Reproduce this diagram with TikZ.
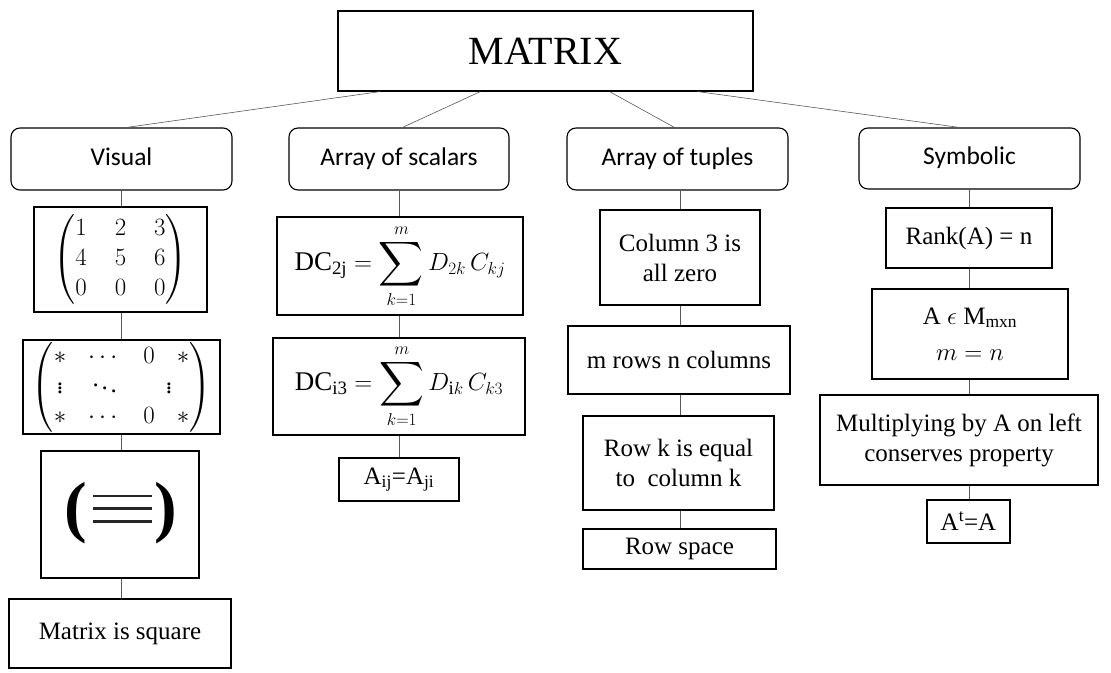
\documentclass[tikz,border=0pt]{standalone}
\usepackage{amsmath}
\usepackage{fontspec}
\setmainfont{Liberation Serif}
\newfontfamily\calfont{Carlito}
\usetikzlibrary{calc}
\newcommand{\bigsum}{\mathop{\vcenter{\hbox{\scalebox{1.25}{$\displaystyle\sum$}}}}\limits}
\tikzset{
  rbox/.style={draw, line width=1.1pt, rounded corners=9pt, inner sep=0pt,
    font=\calfont\fontsize{25.5}{30}\selectfont, execute at begin node=\strut},
  sbox/.style={draw, line width=1.1pt, inner sep=0pt, align=center,
    font=\fontsize{25}{30}\selectfont},
  mbox/.style={sbox, font=\fontsize{27}{32}\selectfont},
  sz/.style 2 args={minimum width=#1pt, minimum height=#2pt},
  conn/.style={line width=0.6pt, draw=black!65},
  bar/.style={line width=2.2pt, draw=black!85, line cap=butt},
  bigparen/.style={inner sep=0pt, font=\bfseries\fontsize{68}{68}\selectfont},
}
\begin{document}
\begin{tikzpicture}[x=1pt,y=-1pt]
\fill[white] (0,0) rectangle (1111,672);
\useasboundingbox (0,0) rectangle (1111,672);

% title
\node[sbox, sz={415}{80}, font=\fontsize{40}{40}\selectfont] (title) at (545.5,51) {MATRIX};

% level 2
\node[rbox, sz={221}{62}] (visual)   at (121.5,159) {Visual};
\node[rbox, sz={220}{62}] (scalars)  at (399,159)   {Array of scalars};
\node[rbox, sz={221}{62}] (tuples)   at (677.5,159) {Array of tuples};
\node[rbox, sz={221}{61}] (symbolic) at (969.5,158.5) {Symbolic};

% visual column
\node[sbox, sz={173}{105}] (m1) at (120.5,259.5)
  {$\setlength\arraycolsep{14pt}\begin{pmatrix}1&2&3\\4&5&6\\0&0&0\end{pmatrix}$};
\node[sbox, sz={197}{94}] (m2) at (121.5,387)
  {$\setlength\arraycolsep{11pt}\begin{pmatrix}* & \cdots & 0 & *\\
     \vdots & \ddots & \makebox[0pt]{\hspace{40pt}$\vdots$} & \\
     * & \cdots & 0 & *\end{pmatrix}$};
\node[sbox, sz={158}{127}] (paren) at (120,514.5) {};
\node[bigparen] (lp) at (76,513) {(};
\node[bigparen] (rp) at (166,513) {)};
\draw[bar] (93,496) -- (152,496);
\draw[bar] (93,508.5) -- (152,508.5);
\draw[bar] (93,521.5) -- (152,521.5);
\node[sbox, sz={222}{69}] (square) at (120,633.5) {Matrix is square};

% scalars column
\node[mbox, sz={246}{98}] (dc2) at (400,266)
  {$\mathrm{DC}_{\mathrm{2j}} = \bigsum_{k=1}^{m} D_{2k}\, C_{kj}$};
\node[mbox, sz={252}{97}] (dc3) at (399,386.5)
  {$\mathrm{DC}_{\mathrm{i3}} = \bigsum_{k=1}^{m} D_{\mathrm{i}k}\, C_{k3}$};
\node[sbox, sz={120}{43}] (aij) at (399,479.5)
  {A\textsubscript{ij}=A\textsubscript{ji}};

% tuples column
\node[sbox, sz={160}{95}] (col3) at (680,257.5) {Column 3 is\\all zero};
\node[sbox, sz={222}{68}] (mrows) at (679,360) {m rows n columns};
\node[sbox, sz={191}{94}] (rowk) at (678.5,463) {Row k is equal\\to\ \ column k};
\node[sbox, sz={193}{40}] (rowsp) at (679.5,549) {Row space};

% symbolic column
\node[sbox, sz={166}{60}] (rank) at (969,238) {Rank(A) = n};
\node[sbox, sz={196}{90}, font=\fontsize{25}{36}\selectfont] (ain) at (970,334)
  {A $\epsilon$ M\textsubscript{mxn}\\\fontsize{27}{36}\selectfont$m = n$};
\node[sbox, sz={278}{90}] (mult) at (959,440) {Multiplying by A on left\\conserves property};
\node[sbox, sz={83}{43}] (at) at (968.5,521.5) {A\textsuperscript{t}=A};

% connectors from title
\draw[conn] ([xshift=43pt]title.south west) -- ([xshift=116pt]visual.north west);
\draw[conn] ([xshift=143pt]title.south west) -- ([xshift=114pt]scalars.north west);
\draw[conn] ([xshift=272pt]title.south west) -- ([xshift=108pt]tuples.north west);
\draw[conn] ([xshift=360pt]title.south west) -- ([xshift=101pt]symbolic.north west);

% vertical connectors
\draw[conn] (visual.south) -- (visual.south |- m1.north);
\draw[conn] (visual.south |- m1.south) -- (visual.south |- m2.north);
\draw[conn] (visual.south |- m2.south) -- (visual.south |- paren.north);
\draw[conn] (visual.south |- paren.south) -- (visual.south |- square.north);

\draw[conn] (scalars.south) -- (scalars.south |- dc2.north);
\draw[conn] (scalars.south |- dc2.south) -- (scalars.south |- dc3.north);
\draw[conn] (scalars.south |- dc3.south) -- (scalars.south |- aij.north);

\draw[conn] (col3.north |- tuples.south) -- (col3.north);
\draw[conn] (col3.south) -- (col3.south |- mrows.north);
\draw[conn] (col3.south |- mrows.south) -- (col3.south |- rowk.north);
\draw[conn] (col3.south |- rowk.south) -- (col3.south |- rowsp.north);

\draw[conn] (symbolic.south) -- (symbolic.south |- rank.north);
\draw[conn] (symbolic.south |- rank.south) -- (symbolic.south |- ain.north);
\draw[conn] (symbolic.south |- ain.south) -- (symbolic.south |- mult.north);
\draw[conn] (symbolic.south |- mult.south) -- (symbolic.south |- at.north);
\end{tikzpicture}
\end{document}
